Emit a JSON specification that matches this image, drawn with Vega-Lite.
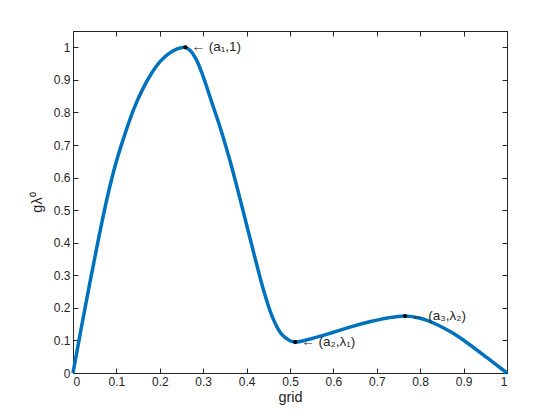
{
  "$schema": "https://vega.github.io/schema/vega-lite/v6.json",
  "autosize": "none",
  "width": 434,
  "height": 342,
  "padding": {"left": 73, "top": 31, "right": 53, "bottom": 47},
  "background": "white",
  "config": {
    "view": {"stroke": "#262626", "strokeWidth": 1},
    "font": "Liberation Sans",
    "axis": {
      "domainColor": "#262626",
      "tickColor": "#262626",
      "labelColor": "#262626",
      "titleColor": "#262626",
      "labelFont": "Liberation Sans",
      "titleFont": "Liberation Sans",
      "labelFontSize": 12,
      "titleFontSize": 14.5,
      "titleFontWeight": "normal",
      "grid": false,
      "tickSize": -5,
      "labelPadding": 8,
      "format": "~g"
    }
  },
  "datasets": {
    "curve": [
      {"grid": 0, "g": 0},
      {"grid": 0.02, "g": 0.145},
      {"grid": 0.04, "g": 0.285},
      {"grid": 0.06, "g": 0.42},
      {"grid": 0.08, "g": 0.545},
      {"grid": 0.1, "g": 0.65},
      {"grid": 0.12, "g": 0.735},
      {"grid": 0.14, "g": 0.81},
      {"grid": 0.16, "g": 0.87},
      {"grid": 0.18, "g": 0.918},
      {"grid": 0.2, "g": 0.955},
      {"grid": 0.22, "g": 0.98},
      {"grid": 0.24, "g": 0.995},
      {"grid": 0.258, "g": 1.0},
      {"grid": 0.27, "g": 0.99},
      {"grid": 0.285, "g": 0.96},
      {"grid": 0.3, "g": 0.91},
      {"grid": 0.32, "g": 0.83},
      {"grid": 0.34, "g": 0.75},
      {"grid": 0.36, "g": 0.66},
      {"grid": 0.38, "g": 0.56},
      {"grid": 0.4, "g": 0.455},
      {"grid": 0.42, "g": 0.35},
      {"grid": 0.44, "g": 0.25},
      {"grid": 0.46, "g": 0.17},
      {"grid": 0.48, "g": 0.12},
      {"grid": 0.5, "g": 0.099},
      {"grid": 0.512, "g": 0.095},
      {"grid": 0.562, "g": 0.11},
      {"grid": 0.6, "g": 0.125},
      {"grid": 0.638, "g": 0.141},
      {"grid": 0.686, "g": 0.158},
      {"grid": 0.725, "g": 0.169},
      {"grid": 0.765, "g": 0.175},
      {"grid": 0.8, "g": 0.168},
      {"grid": 0.838, "g": 0.149},
      {"grid": 0.877, "g": 0.121},
      {"grid": 0.915, "g": 0.086},
      {"grid": 0.954, "g": 0.047},
      {"grid": 1, "g": 0}
    ],
    "pts": [
      {"grid": 0.259, "g": 1.0, "label": "← (a₁,1)"},
      {"grid": 0.512, "g": 0.095, "label": "← (a₂,λ₁)"},
      {"grid": 0.765, "g": 0.175, "label": "← (a₃,λ₂)"}
    ]
  },
  "resolve": {"axis": {"x": "independent", "y": "independent"}},
  "layer": [
    {
      "data": {"name": "curve"},
      "mark": {"type": "line", "color": "#0072BD", "strokeWidth": 3.5, "interpolate": "catmull-rom"},
      "encoding": {
        "x": {"field": "grid", "type": "quantitative", "scale": {"domain": [0, 1], "nice": false},
          "axis": {"title": "grid", "values": [0,0.1,0.2,0.3,0.4,0.5,0.6,0.7,0.8,0.9,1], "titlePadding": 3}},
        "y": {"field": "g", "type": "quantitative", "scale": {"domain": [0, 1.05], "nice": false, "zero": false},
          "axis": {"title": "gλ⁰", "values": [0,0.1,0.2,0.3,0.4,0.5,0.6,0.7,0.8,0.9,1], "titlePadding": 9}}
      }
    },
    {
      "data": {"name": "pts"},
      "mark": {"type": "point", "filled": true, "color": "black", "size": 18, "opacity": 1},
      "encoding": {
        "x": {"field": "grid", "type": "quantitative",
          "axis": {"orient": "top", "labels": false, "title": null, "values": [0,0.1,0.2,0.3,0.4,0.5,0.6,0.7,0.8,0.9,1]}},
        "y": {"field": "g", "type": "quantitative",
          "axis": {"orient": "right", "labels": false, "title": null, "values": [0,0.1,0.2,0.3,0.4,0.5,0.6,0.7,0.8,0.9,1]}}
      }
    },
    {
      "data": {"name": "pts"},
      "mark": {"type": "text", "align": "left", "baseline": "middle", "dx": 6, "fontSize": 13.5, "color": "#262626", "font": "Liberation Sans"},
      "encoding": {
        "x": {"field": "grid", "type": "quantitative", "axis": null},
        "y": {"field": "g", "type": "quantitative", "axis": null},
        "text": {"field": "label"}
      }
    }
  ]
}
